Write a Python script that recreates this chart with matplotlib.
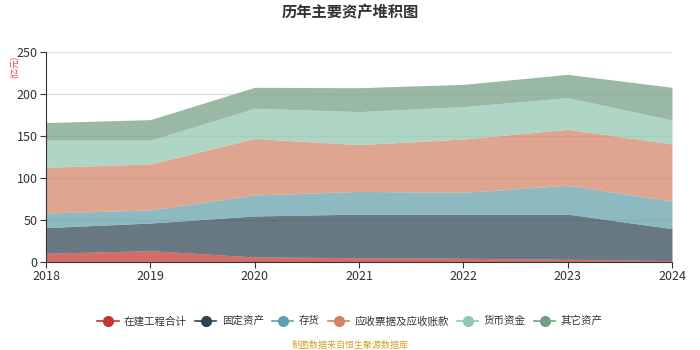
import matplotlib
matplotlib.use("Agg")
import matplotlib.pyplot as plt
from matplotlib.lines import Line2D

plt.rcParams['font.family'] = ['Noto Sans CJK SC', 'DejaVu Sans']

years = ['2018', '2019', '2020', '2021', '2022', '2023', '2024']
names = ['在建工程合计', '固定资产', '存货', '应收票据及应收账款', '货币资金', '其它资产']
construction = [10.4, 13.5, 6.0, 5.2, 4.4, 3.2, 1.6]
fixed_assets = [30.5, 32.9, 48.8, 51.8, 52.6, 53.8, 38.1]
inventory = [17.4, 15.6, 25.0, 27.0, 26.0, 34.3, 32.9]
receivables = [54.4, 54.7, 67.2, 55.7, 63.4, 66.7, 67.9]
cash = [32.3, 28.3, 36.0, 39.3, 38.6, 37.6, 28.5]
other = [21.0, 24.5, 25.0, 28.5, 26.5, 27.8, 39.0]
yticks = [0, 50, 100, 150, 200, 250]

series = [construction, fixed_assets, inventory, receivables, cash, other]
colors = ['#c23531', '#2f4554', '#61a0a8', '#d48265', '#91c7ae', '#749f83']

fig = plt.figure(figsize=(7, 3.5), dpi=100)
ax = fig.add_axes([46/700, 1-262/350, (672-46)/700, 210/350])

x = list(range(len(years)))
base = [0.0]*len(years)
for vals, c in zip(series, colors):
    top = [b+v for b, v in zip(base, vals)]
    ax.fill_between(x, base, top, color=c, alpha=0.72, linewidth=0, zorder=2)
    base = top

ax.set_xlim(0, len(years)-1)
ax.set_ylim(0, 250)
ax.set_xticks(x)
ax.set_xticklabels(years, fontsize=9, color='#333333')
ax.set_yticks(yticks)
ax.set_yticklabels([str(v) for v in yticks], fontsize=9, color='#333333')
ax.grid(axis='y', color='#d8d8d8', linewidth=1, zorder=3, alpha=0.8)
for s in ['top', 'right']:
    ax.spines[s].set_visible(False)
for s in ['left', 'bottom']:
    ax.spines[s].set_color('#333333')
ax.tick_params(axis='both', colors='#333333', length=4, width=0.8, pad=2)

fig.text(0.5, 1-12/350, '历年主要资产堆积图', ha='center', va='center', fontsize=11, fontweight='bold', color='#333333')
fig.text(15/700, 1-67/350, '(亿元)', ha='center', va='center', rotation=90, fontsize=6, color='#ff3333')
fig.text(0.5, 1-345/350, '制图数据来自恒生聚源数据库', ha='center', va='center', fontsize=6.5, color='#d4a030')

handles = [Line2D([0], [0], color=c, marker='o', markersize=7, linewidth=1.2) for c in colors]
fig.legend(handles, names, loc='center', bbox_to_anchor=(0.5, 1-321/350), ncol=6, frameon=False,
           fontsize=7.6, handlelength=2.0, columnspacing=0.8, handletextpad=0.5, labelcolor='#333333')

fig.savefig('out.png', dpi=100)
